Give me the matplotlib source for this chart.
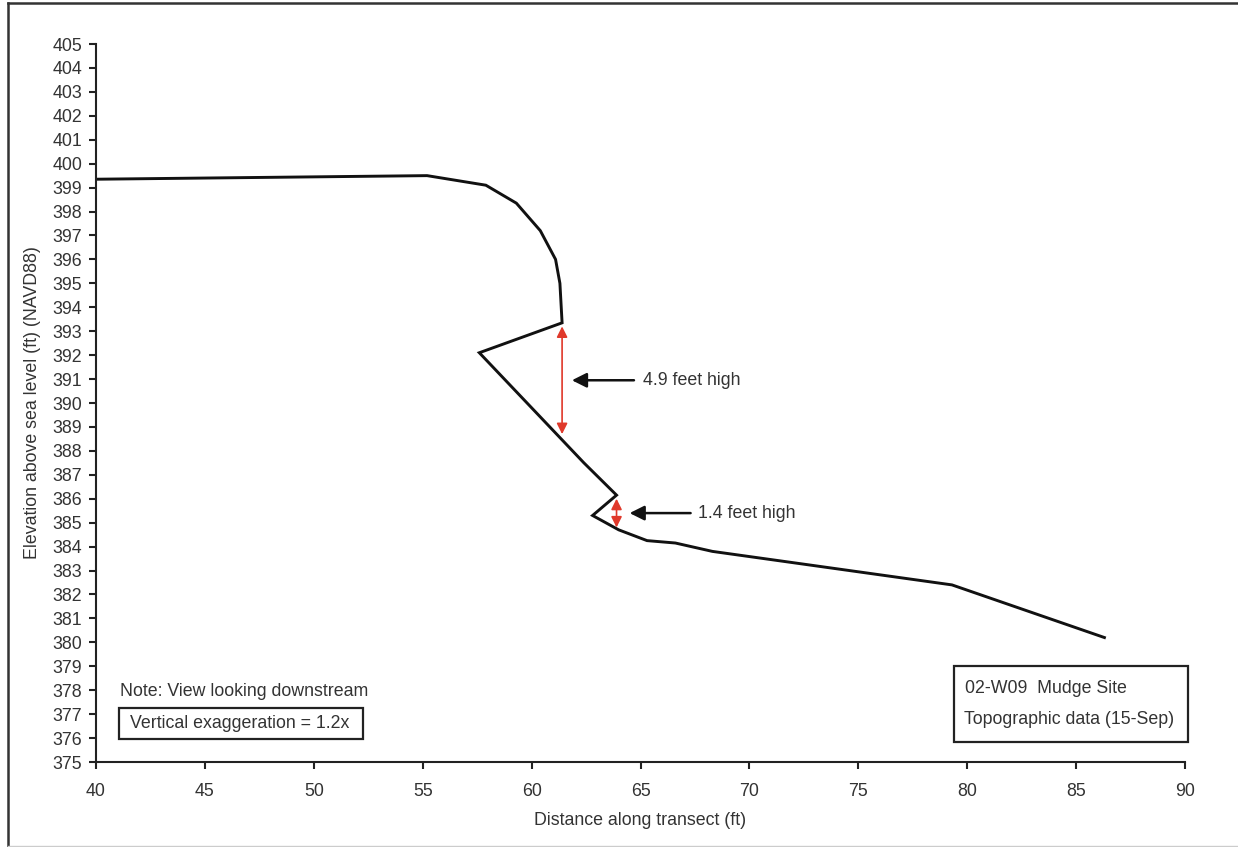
import matplotlib
matplotlib.use("Agg")
import matplotlib.pyplot as plt
from matplotlib.patches import Rectangle
from matplotlib.lines import Line2D

plt.rcParams['font.family'] = ['Liberation Sans', 'DejaVu Sans']

# Profile data
distance = [40.0, 55.2, 57.9, 59.3, 60.4, 61.1, 61.3, 61.4, 57.6, 62.4, 63.9, 62.8, 64.0, 65.3, 66.6, 68.3, 79.3, 86.3]
elevation = [399.35, 399.5, 399.1, 398.35, 397.2, 396.0, 395.0, 393.35, 392.1, 387.5, 386.15, 385.3, 384.7, 384.25, 384.15, 383.8, 382.4, 380.2]

# Height annotations
heights_x = [61.4, 63.9]
heights_lo = [388.7, 384.8]
heights_hi = [393.2, 386.0]
height_labels = ["4.9 feet high", "1.4 feet high"]
arrow_tip_x = [61.85, 64.5]
arrow_tail_x = [64.7, 67.3]
label_x = [65.1, 67.65]
label_y = [390.95, 385.4]

x_ticks = list(range(40, 91, 5))
y_ticks = list(range(375, 406, 1))

W, H = 1238, 847
FS = 12.8
fig = plt.figure(figsize=(W / 100, H / 100), dpi=100)
ax = fig.add_axes([96 / W, 1 - 762 / H, (1185 - 96) / W, (762 - 44) / H])

txt_color = '#333333'
ax.plot(distance, elevation, color='#111111', lw=2.1, solid_joinstyle='miter')

for x, lo, hi in zip(heights_x, heights_lo, heights_hi):
    ax.annotate('', xy=(x, lo), xytext=(x, hi),
                arrowprops=dict(arrowstyle='<|-|>', color='#e0392b', lw=1.2,
                                mutation_scale=16, shrinkA=0, shrinkB=0))
for tip, tail, lx, ly, lab in zip(arrow_tip_x, arrow_tail_x, label_x, label_y, height_labels):
    ax.annotate('', xy=(tip, ly), xytext=(tail, ly),
                arrowprops=dict(arrowstyle='-|>', color='#111111', lw=1.8,
                                mutation_scale=22, shrinkA=0, shrinkB=0))
    ax.text(lx, ly, lab, fontsize=FS, color=txt_color, va='center', ha='left')

ax.set_xlim(40, 90)
ax.set_ylim(375, 405)
ax.set_xticks(x_ticks)
ax.set_yticks(y_ticks)
ax.tick_params(axis='both', labelsize=FS, colors='#222222', labelcolor=txt_color,
               direction='out', length=5, width=1.5)
ax.tick_params(axis='y', pad=5)
ax.tick_params(axis='x', pad=10)
for s in ['top', 'right']:
    ax.spines[s].set_visible(False)
for s in ['left', 'bottom']:
    ax.spines[s].set_linewidth(1.5)
    ax.spines[s].set_color('#222222')

ax.set_xlabel('Distance along transect (ft)', fontsize=FS, color=txt_color, labelpad=9)
ax.set_ylabel('Elevation above sea level (ft) (NAVD88)', fontsize=FS, color=txt_color, labelpad=8)

# Notes
fig.text(120 / W, 1 - 691 / H, 'Note: View looking downstream', fontsize=FS, color=txt_color, va='center', ha='left')
fig.text(130 / W, 1 - 723 / H, 'Vertical exaggeration = 1.2x', fontsize=FS, color=txt_color, va='center', ha='left')
fig.patches.append(Rectangle((119 / W, 1 - 739 / H), (363 - 119) / W, (739 - 708) / H,
                             transform=fig.transFigure, fill=False, lw=1.6, ec='#222222'))

fig.text(965 / W, 1 - 688 / H, '02-W09  Mudge Site', fontsize=FS, color=txt_color, va='center', ha='left')
fig.text(964 / W, 1 - 720 / H, 'Topographic data (15-Sep)', fontsize=FS, color=txt_color, va='center', ha='left')
fig.patches.append(Rectangle((954 / W, 1 - 742 / H), (1188 - 954) / W, (742 - 666) / H,
                             transform=fig.transFigure, fill=False, lw=1.6, ec='#222222'))

# Outer frame (left and top edges dark, bottom faint)
fig.lines.append(Line2D([8 / W, 8 / W], [1 - 846 / H, 1 - 3 / H], transform=fig.transFigure, color='#333333', lw=1.8))
fig.lines.append(Line2D([8 / W, 1.0], [1 - 3 / H, 1 - 3 / H], transform=fig.transFigure, color='#333333', lw=1.8))
fig.lines.append(Line2D([8 / W, 1.0], [1 - 845.5 / H, 1 - 845.5 / H], transform=fig.transFigure, color='#cccccc', lw=1.0))

fig.savefig('out.png', dpi=100)
